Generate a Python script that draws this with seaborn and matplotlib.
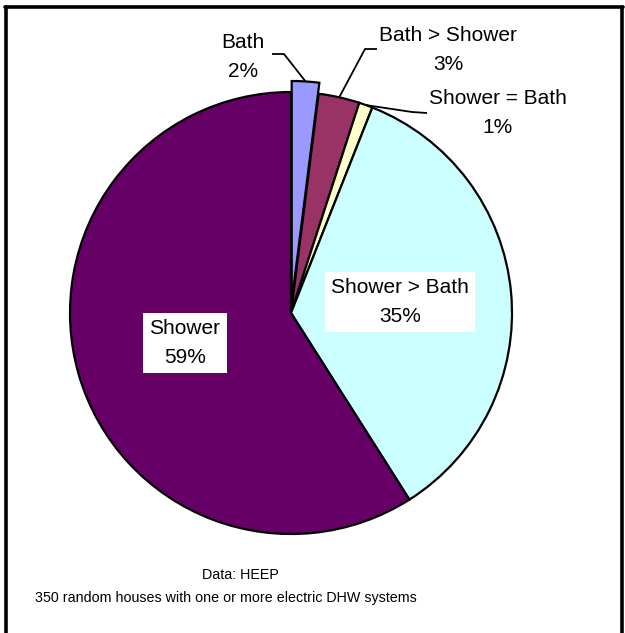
import numpy as np
import matplotlib
matplotlib.use("Agg")
import matplotlib.pyplot as plt
from matplotlib.lines import Line2D
import seaborn as sns

# Hot-water usage categories (clockwise from 12 o'clock)
categories = ["Bath", "Bath > Shower", "Shower = Bath", "Shower > Bath", "Shower"]
shares = [2, 3, 1, 35, 59]
colours = ["#9999FF", "#993366", "#FFFFCC", "#CCFFFF", "#660066"]
source_note = "Data: HEEP"
sample_note = "350 random houses with one or more electric DHW systems"

sns.set_theme(style="white")
plt.rcParams["font.family"] = ["Liberation Sans", "DejaVu Sans"]
palette = sns.color_palette(colours)

W, H = 625, 633
fig = plt.figure(figsize=(W / 100, H / 100), dpi=100)
ax = fig.add_axes([0, 0, 1, 1])

def py(y):
    # convert a top-down pixel row into axis units
    return H - y

cx, cy, R = 291, py(313), 221
explode = [11, 0, 0, 0, 0]   # pull the Bath slice out of the pie
wedges, _ = ax.pie(
    shares, colors=palette, startangle=90, counterclock=False,
    center=(cx, cy), radius=R, explode=explode, frame=True,
    wedgeprops=dict(edgecolor="black", linewidth=1.6),
)
ax.set_xlim(0, W)
ax.set_ylim(0, H)
ax.set_aspect("equal")
ax.axis("off")

def rim_point(w):
    # point on the outer rim at the middle of a wedge
    mid = np.deg2rad((w.theta1 + w.theta2) / 2)
    x0, y0 = w.center
    return x0 + w.r * np.cos(mid), y0 + w.r * np.sin(mid)

def pct(v):
    return f"{v}%"

lab_kw = dict(fontsize=15, ha="center", va="center", linespacing=1.65, color="black")

# outside labels for the thin slices, with leader lines
outside = {
    0: ((243, 57), [(272, 54), (284, 54)]),
    1: ((448, 50), [(377, 49), (365, 49)]),
    2: ((498, 113), [(427, 113), (412, 112)]),
}
for i, ((tx, ty), path) in outside.items():
    ax.text(tx, py(ty), f"{categories[i]}\n{pct(shares[i])}", **lab_kw)
    xs = [p[0] for p in path]
    ys = [py(p[1]) for p in path]
    ex, ey = rim_point(wedges[i])
    ax.plot(xs + [ex], ys + [ey], color="black", lw=1.3, solid_capstyle="butt")

# inside labels on white boxes
box = dict(boxstyle="square,pad=0.3", facecolor="white", edgecolor="none")
ax.text(400, py(302), f"{categories[3]}\n{pct(shares[3])}", bbox=box, **lab_kw)
ax.text(185, py(343), f"{categories[4]}\n{pct(shares[4])}", bbox=box, **lab_kw)

# footnote
note_kw = dict(fontsize=10.3, ha="center", va="center", color="black")
ax.text(240, py(575), source_note, **note_kw)
ax.text(226, py(598), sample_note, **note_kw)

# chart frame (open at the bottom edge)
frame_kw = dict(color="black", lw=2.6, clip_on=False)
ax.add_line(Line2D([6, 6], [py(7), -5], **frame_kw))
ax.add_line(Line2D([5, 623], [py(7), py(7)], **frame_kw))
ax.add_line(Line2D([622, 622], [py(7), -5], **frame_kw))

fig.savefig("out.png", dpi=100, facecolor="white")
